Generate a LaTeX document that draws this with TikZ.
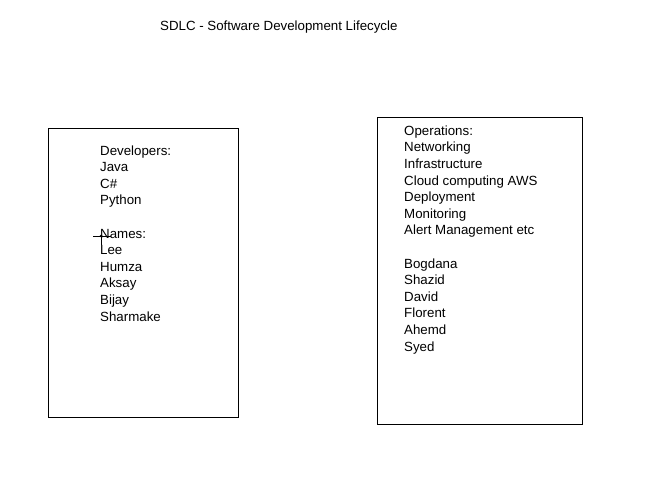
\documentclass[tikz,border=0pt]{standalone}
\usepackage{fontspec}
\setmainfont{Liberation Sans}
\tikzset{
    team/.style={draw, line width=1pt},
    list/.style={anchor=base west, align=left, inner sep=0pt, font=\fontsize{13.3}{16.6}\selectfont},
}
\begin{document}
\begin{tikzpicture}[x=1pt, y=-1pt]
    \useasboundingbox (0,0) rectangle (656,492);

    % Draw title
    \node[list] (title) at (160,31) {SDLC - Software Development Lifecycle};

    % Draw boxes
    \draw[team] (48,129) rectangle (238,417);
    \draw[team] (377,118) rectangle (582,424);

    % Draw lists (base = last line)
    \node[list] (dev) at (100,321) {Developers:\\Java\\C\#\\Python\\[16.6pt]Names:\\Lee\\Humza\\Aksay\\Bijay\\Sharmake};
    \node[list] (ops) at (404,351) {Operations:\\Networking\\Infrastructure\\Cloud computing AWS\\Deployment\\Monitoring\\Alert Management etc\\[16.6pt]Bogdana\\Shazid\\David\\Florent\\Ahemd\\Syed};

    % Draw cursor
    \draw[line width=1pt] (93,236) -- (111,236);
    \draw[line width=1pt] (101,236) -- (101,245);
    \fill (101,236) circle (1.5);
\end{tikzpicture}
\end{document}
